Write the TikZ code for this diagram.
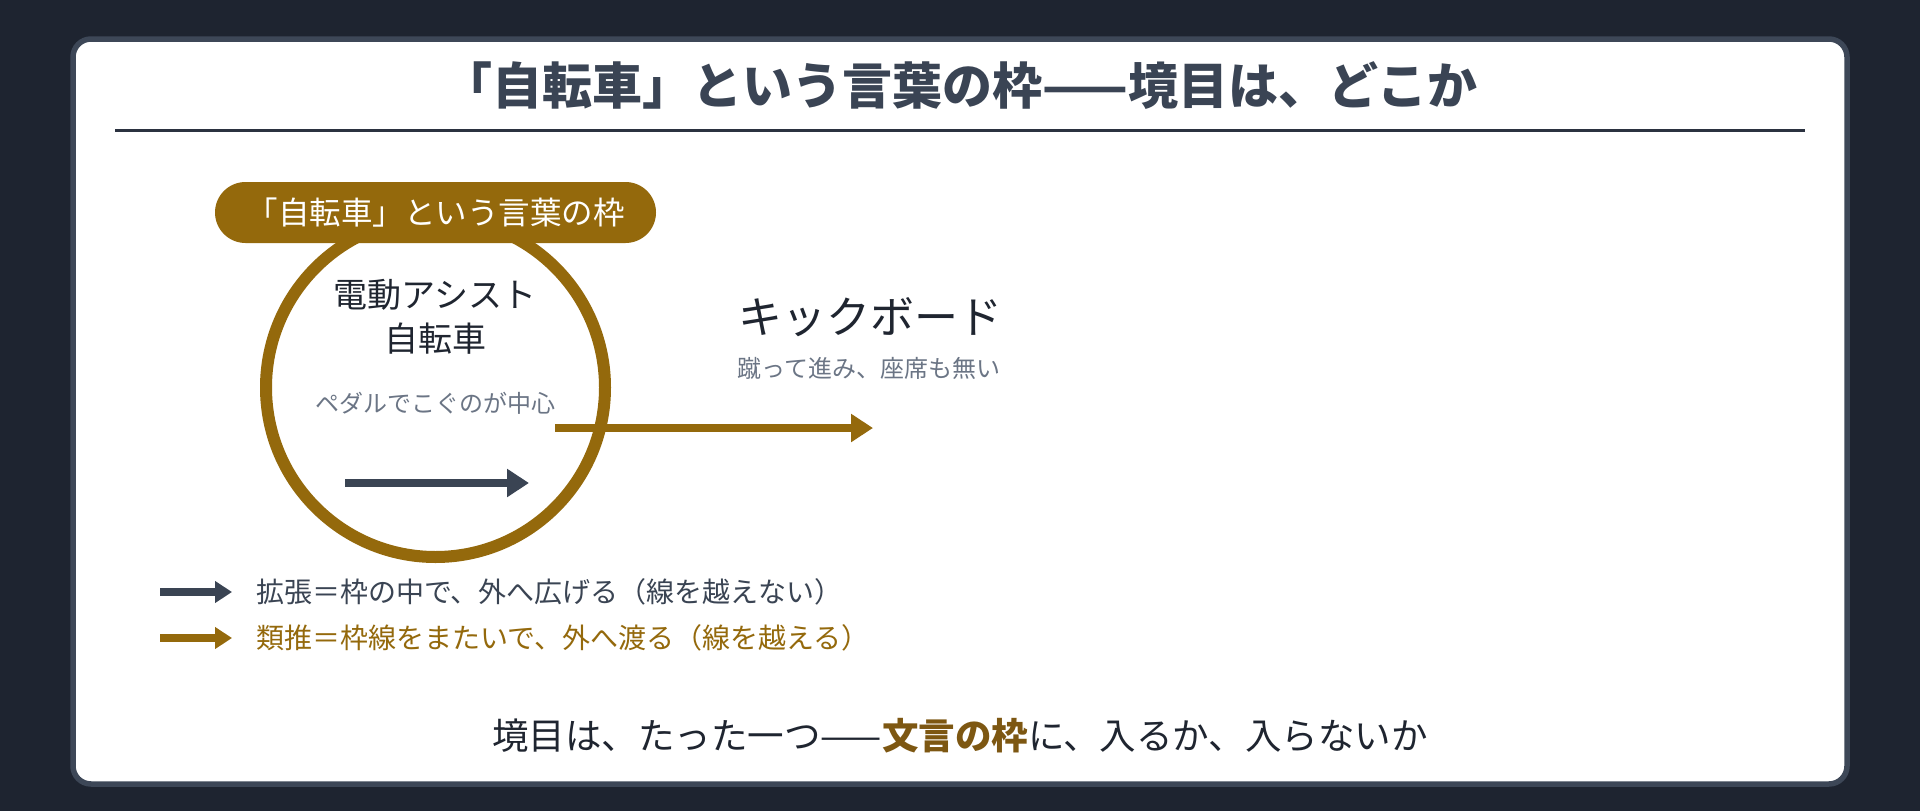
\documentclass[tikz,border=0pt]{standalone}
\usepackage{fontspec}
\setmainfont{Noto Sans CJK JP}
\usetikzlibrary{arrows.meta}
\definecolor{bgdark}{HTML}{1E2430}
\definecolor{panelborder}{HTML}{3D4757}
\definecolor{titlecol}{HTML}{3A4454}
\definecolor{rulecol}{HTML}{2B3240}
\definecolor{brown}{HTML}{94690C}
\definecolor{darkbrown}{HTML}{7D5712}
\definecolor{inkdark}{HTML}{1F2530}
\definecolor{graytext}{HTML}{6B7585}
\definecolor{slate}{HTML}{3A4453}
\tikzset{
  txt/.style={inner sep=0pt, outer sep=0pt, align=center},
  darrow/.style={draw=slate, line width=8pt, -{Triangle[length=22pt,width=27pt]}},
  barrow/.style={draw=brown, line width=8pt, -{Triangle[length=22pt,width=27pt]}},
  legdark/.style={draw=slate, line width=8pt, -{Triangle[length=17pt,width=21pt]}},
  legbrown/.style={draw=brown, line width=8pt, -{Triangle[length=17pt,width=21pt]}}
}
\begin{document}
\begin{tikzpicture}[x=1pt,y=-1pt]
\useasboundingbox (0,0) rectangle (1920,811);
\fill[bgdark] (0,0) rectangle (1920,811);
\draw[rounded corners=18pt, line width=5.5pt, draw=panelborder, fill=white] (73,39) rectangle (1847,784);
% title
\node[txt, text=titlecol, font=\fontsize{50}{60}\selectfont\bfseries] (title) at (960,86) {「自転車」という言葉の枠——境目は、どこか};
\coordinate (ruleL) at (115,130);
\coordinate (ruleR) at (1805,130);
\draw[rulecol, line width=3pt] (ruleL) -- (ruleR);
% frame circle
\node[circle, draw=brown, line width=12pt, minimum size=339pt, inner sep=0pt] (frame) at (435.5,387.5) {};
% pill label
\node[rectangle, rounded corners=30.5pt, fill=brown, minimum width=441pt, minimum height=61pt, inner sep=0pt,
      text=white, font=\fontsize{31.5}{36}\selectfont] (pill) at (435.5,212.5) {「自転車」という言葉の枠};
% inside texts
\node[txt, text=inkdark, font=\fontsize{34}{44}\selectfont] (ebike1) at (435,295) {電動アシスト};
\node[txt, text=inkdark, font=\fontsize{34}{44}\selectfont] (ebike2) at (435,339) {自転車};
\node[txt, text=graytext, font=\fontsize{24}{28}\selectfont] (ebikesub) at (435,403) {ペダルでこぐのが中心};
% kickboard
\node[txt, text=inkdark, font=\fontsize{44}{50}\selectfont] (kick) at (870,317) {キックボード};
\node[txt, text=graytext, font=\fontsize{24}{28}\selectfont] (kicksub) at (869,368) {蹴って進み、座席も無い};
% arrows
\coordinate (extS) at (345,483);
\coordinate (extE) at (529,483);
\draw[darrow] (extS) -- (extE);
\coordinate (anaS) at (555,428);
\coordinate (anaE) at (873,428);
\draw[barrow] (anaS) -- (anaE);
% legend
\coordinate (l1S) at (160,592);
\coordinate (l1E) at (232,592);
\draw[legdark] (l1S) -- (l1E);
\coordinate (l2S) at (160,638);
\coordinate (l2E) at (232,638);
\draw[legbrown] (l2S) -- (l2E);
\node[txt, anchor=west, text=slate, font=\fontsize{28}{32}\selectfont] (leg1) at (256,592) {拡張＝枠の中で、外へ広げる（線を越えない）};
\node[txt, anchor=west, text=brown, font=\fontsize{28}{32}\selectfont] (leg2) at (256,638) {類推＝枠線をまたいで、外へ渡る（線を越える）};
% bottom
\node[txt, text=inkdark, font=\fontsize{36.5}{42}\selectfont] (bottom) at (960,736) {境目は、たった一つ——{\color{darkbrown}\bfseries 文言の枠}に、入るか、入らないか};
\end{tikzpicture}
\end{document}
